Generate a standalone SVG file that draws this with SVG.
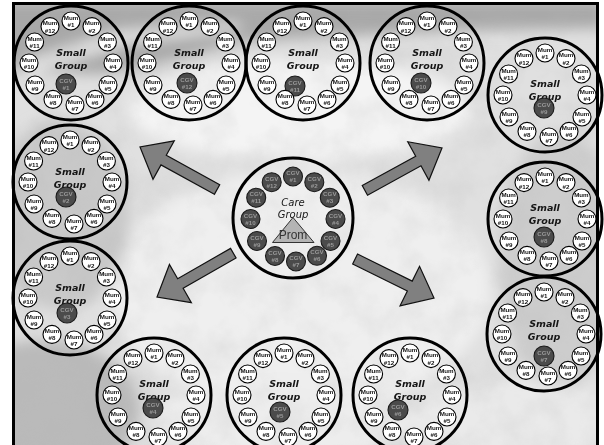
<svg xmlns="http://www.w3.org/2000/svg" width="604" height="445" viewBox="0 0 604 445">
  <style>
    .big { fill: none; stroke: #000; stroke-width: 3; }
    .sg { font-family: "DejaVu Sans", sans-serif; font-style: italic; font-weight: bold; font-size: 9.5px; text-anchor: middle; fill: #151515; }
    .cg { font-family: "DejaVu Sans", sans-serif; font-style: italic; font-size: 10px; text-anchor: middle; fill: #151515; }
    .mum circle { fill: #fff; stroke: #000; stroke-width: 1.1; }
    .mum text { font-family: "Liberation Sans", Arial, sans-serif; font-weight: bold; font-size: 6.2px; text-anchor: middle; fill: #111; }
    .cgv circle { fill: #4b4b4b; stroke: #1a1a1a; stroke-width: 1.1; }
    .cgv text { font-family: "Liberation Sans", Arial, sans-serif; font-weight: bold; font-size: 6.2px; text-anchor: middle; fill: #9a9a9a; }
    .arrow { fill: #808080; stroke: #111; stroke-width: 1.2; stroke-linejoin: miter; }
    .prom { font-family: "Liberation Sans", Arial, sans-serif; font-size: 12px; text-anchor: middle; fill: #333; }
  </style>
  <defs>
    <clipPath id="frameClip"><rect x="13" y="3" width="585" height="445"/></clipPath>
    <filter id="soft" x="-20%" y="-20%" width="140%" height="140%"><feGaussianBlur stdDeviation="7"/></filter>
    <filter id="grain" x="0" y="0" width="100%" height="100%">
      <feTurbulence type="fractalNoise" baseFrequency="0.03" numOctaves="4" seed="7"/>
      <feColorMatrix type="matrix" values="0 0 0 0 0.45  0 0 0 0 0.45  0 0 0 0 0.45  0 0 0 -1.6 1.0"/>
    </filter>
    <polygon id="arrowShape" points="-88,-5.5 -27,-5.5 -27,-22 0,0 -27,22 -27,5.5 -88,5.5"/>
  </defs>

  <g opacity="0.999">
  <!-- paper and cloudy sky backdrop -->
  <rect width="604" height="445" fill="#fff"/>
  <g clip-path="url(#frameClip)">
    <rect x="13" y="3" width="585" height="445" fill="#e0e0e0"/>
    <g filter="url(#soft)">
      <ellipse cx="300" cy="290" rx="190" ry="120" fill="#efefef"/>
      <ellipse cx="300" cy="110" rx="170" ry="50" fill="#f4f4f4"/>
      <ellipse cx="60" cy="215" rx="70" ry="95" fill="#c9c9c9"/>
      <ellipse cx="45" cy="410" rx="95" ry="70" fill="#bababa"/>
      <ellipse cx="560" cy="260" rx="60" ry="130" fill="#cdcdcd"/>
      <ellipse cx="520" cy="420" rx="110" ry="40" fill="#eaeaea"/>
      <ellipse cx="280" cy="420" rx="130" ry="40" fill="#ededed"/>
      <polygon points="0,0 604,0 604,28 470,30 330,36 240,42 170,62 100,74 0,70" fill="#a8a8a8"/>
      <polygon points="20,62 120,30 240,22 240,30 130,44 30,74" fill="#e2e2e2"/>
      <polygon points="120,72 240,44 330,36 330,40 240,52 130,78" fill="#d8d8d8"/>
    </g>
    <rect x="13" y="3" width="585" height="445" filter="url(#grain)" opacity="0.22"/>
  </g>
  <rect x="13.5" y="3.5" width="584" height="460" fill="none" stroke="#000" stroke-width="3"/>

  <!-- connectors: arrows from the care group out to the small groups -->
  <g id="connectors">
    <use href="#arrowShape" class="arrow" transform="translate(140,147) rotate(-151.1)"/>
    <use href="#arrowShape" class="arrow" transform="translate(442,148) rotate(-28.8)"/>
    <use href="#arrowShape" class="arrow" transform="translate(157,297) rotate(150.1)"/>
    <use href="#arrowShape" class="arrow" transform="translate(434,298) rotate(26.3)"/>
  </g>

  <!-- central care group -->
  <g id="care-group" transform="translate(293,219)">
    <circle class="big" cy="-1" r="60"/>
    <text class="cg" y="-13.5">Care</text>
    <text class="cg" y="-1.5">Group</text>
    <polygon points="0,-1.5 -20.5,23.5 21,23.5" fill="#b4b4b4" stroke="#333" stroke-width="1"/>
    <text class="prom" y="20">Prom</text>
    <g class="cgv" transform="translate(0,-42.5)"><circle r="9.5"/><text y="-1.5">CGV</text><text y="5.5">#1</text></g>
    <g class="cgv" transform="translate(21.3,-36.8)"><circle r="9.5"/><text y="-1.5">CGV</text><text y="5.5">#2</text></g>
    <g class="cgv" transform="translate(36.8,-21.3)"><circle r="9.5"/><text y="-1.5">CGV</text><text y="5.5">#3</text></g>
    <g class="cgv" transform="translate(42.5,0)"><circle r="9.5"/><text y="-1.5">CGV</text><text y="5.5">#4</text></g>
    <g class="cgv" transform="translate(37.5,22)"><circle r="9.5"/><text y="-1.5">CGV</text><text y="5.5">#5</text></g>
    <g class="cgv" transform="translate(24,36.8)"><circle r="9.5"/><text y="-1.5">CGV</text><text y="5.5">#6</text></g>
    <g class="cgv" transform="translate(3,42.5)"><circle r="9.5"/><text y="-1.5">CGV</text><text y="5.5">#7</text></g>
    <g class="cgv" transform="translate(-18,37)"><circle r="9.5"/><text y="-1.5">CGV</text><text y="5.5">#8</text></g>
    <g class="cgv" transform="translate(-36,22)"><circle r="9.5"/><text y="-1.5">CGV</text><text y="5.5">#9</text></g>
    <g class="cgv" transform="translate(-42.5,0)"><circle r="9.5"/><text y="-1.5">CGV</text><text y="5.5">#10</text></g>
    <g class="cgv" transform="translate(-36.8,-21.3)"><circle r="9.5"/><text y="-1.5">CGV</text><text y="5.5">#11</text></g>
    <g class="cgv" transform="translate(-21.3,-36.8)"><circle r="9.5"/><text y="-1.5">CGV</text><text y="5.5">#12</text></g>
  </g>

  <!-- small group led by CGV #1 -->
  <g id="small-group-1" transform="translate(71,63)">
    <circle class="big" r="57"/>
    <text class="sg" y="-7">Small</text>
    <text class="sg" y="6">Group</text>
    <g class="cgv" transform="translate(-5,21)"><circle r="10"/><text y="-1.5">CGV</text><text y="5.5">#1</text></g>
    <g class="mum" transform="translate(0,-42)"><circle r="9"/><text y="-1.5">Mum</text><text y="6">#1</text></g>
    <g class="mum" transform="translate(21,-36.4)"><circle r="9"/><text y="-1.5">Mum</text><text y="6">#2</text></g>
    <g class="mum" transform="translate(36.4,-21)"><circle r="9"/><text y="-1.5">Mum</text><text y="6">#3</text></g>
    <g class="mum" transform="translate(42,0)"><circle r="9"/><text y="-1.5">Mum</text><text y="6">#4</text></g>
    <g class="mum" transform="translate(37,22)"><circle r="9"/><text y="-1.5">Mum</text><text y="6">#5</text></g>
    <g class="mum" transform="translate(24,36.4)"><circle r="9"/><text y="-1.5">Mum</text><text y="6">#6</text></g>
    <g class="mum" transform="translate(4,42)"><circle r="9"/><text y="-1.5">Mum</text><text y="6">#7</text></g>
    <g class="mum" transform="translate(-18,36.4)"><circle r="9"/><text y="-1.5">Mum</text><text y="6">#8</text></g>
    <g class="mum" transform="translate(-36,22)"><circle r="9"/><text y="-1.5">Mum</text><text y="6">#9</text></g>
    <g class="mum" transform="translate(-42,0)"><circle r="9"/><text y="-1.5">Mum</text><text y="6">#10</text></g>
    <g class="mum" transform="translate(-36.4,-21)"><circle r="9"/><text y="-1.5">Mum</text><text y="6">#11</text></g>
    <g class="mum" transform="translate(-21,-36.4)"><circle r="9"/><text y="-1.5">Mum</text><text y="6">#12</text></g>
  </g>

  <!-- small group led by CGV #12 -->
  <g id="small-group-12" transform="translate(189,63)">
    <circle class="big" r="57"/>
    <text class="sg" y="-7">Small</text>
    <text class="sg" y="6">Group</text>
    <g class="cgv" transform="translate(-2,20)"><circle r="10"/><text y="-1.5">CGV</text><text y="5.5">#12</text></g>
    <g class="mum" transform="translate(0,-42)"><circle r="9"/><text y="-1.5">Mum</text><text y="6">#1</text></g>
    <g class="mum" transform="translate(21,-36.4)"><circle r="9"/><text y="-1.5">Mum</text><text y="6">#2</text></g>
    <g class="mum" transform="translate(36.4,-21)"><circle r="9"/><text y="-1.5">Mum</text><text y="6">#3</text></g>
    <g class="mum" transform="translate(42,0)"><circle r="9"/><text y="-1.5">Mum</text><text y="6">#4</text></g>
    <g class="mum" transform="translate(37,22)"><circle r="9"/><text y="-1.5">Mum</text><text y="6">#5</text></g>
    <g class="mum" transform="translate(24,36.4)"><circle r="9"/><text y="-1.5">Mum</text><text y="6">#6</text></g>
    <g class="mum" transform="translate(4,42)"><circle r="9"/><text y="-1.5">Mum</text><text y="6">#7</text></g>
    <g class="mum" transform="translate(-18,36.4)"><circle r="9"/><text y="-1.5">Mum</text><text y="6">#8</text></g>
    <g class="mum" transform="translate(-36,22)"><circle r="9"/><text y="-1.5">Mum</text><text y="6">#9</text></g>
    <g class="mum" transform="translate(-42,0)"><circle r="9"/><text y="-1.5">Mum</text><text y="6">#10</text></g>
    <g class="mum" transform="translate(-36.4,-21)"><circle r="9"/><text y="-1.5">Mum</text><text y="6">#11</text></g>
    <g class="mum" transform="translate(-21,-36.4)"><circle r="9"/><text y="-1.5">Mum</text><text y="6">#12</text></g>
  </g>

  <!-- small group led by CGV #11 -->
  <g id="small-group-11" transform="translate(303,63)">
    <circle class="big" r="57"/>
    <text class="sg" y="-7">Small</text>
    <text class="sg" y="6">Group</text>
    <g class="cgv" transform="translate(-8,23)"><circle r="10"/><text y="-1.5">CGV</text><text y="5.5">#11</text></g>
    <g class="mum" transform="translate(0,-42)"><circle r="9"/><text y="-1.5">Mum</text><text y="6">#1</text></g>
    <g class="mum" transform="translate(21,-36.4)"><circle r="9"/><text y="-1.5">Mum</text><text y="6">#2</text></g>
    <g class="mum" transform="translate(36.4,-21)"><circle r="9"/><text y="-1.5">Mum</text><text y="6">#3</text></g>
    <g class="mum" transform="translate(42,0)"><circle r="9"/><text y="-1.5">Mum</text><text y="6">#4</text></g>
    <g class="mum" transform="translate(37,22)"><circle r="9"/><text y="-1.5">Mum</text><text y="6">#5</text></g>
    <g class="mum" transform="translate(24,36.4)"><circle r="9"/><text y="-1.5">Mum</text><text y="6">#6</text></g>
    <g class="mum" transform="translate(4,42)"><circle r="9"/><text y="-1.5">Mum</text><text y="6">#7</text></g>
    <g class="mum" transform="translate(-18,36.4)"><circle r="9"/><text y="-1.5">Mum</text><text y="6">#8</text></g>
    <g class="mum" transform="translate(-36,22)"><circle r="9"/><text y="-1.5">Mum</text><text y="6">#9</text></g>
    <g class="mum" transform="translate(-42,0)"><circle r="9"/><text y="-1.5">Mum</text><text y="6">#10</text></g>
    <g class="mum" transform="translate(-36.4,-21)"><circle r="9"/><text y="-1.5">Mum</text><text y="6">#11</text></g>
    <g class="mum" transform="translate(-21,-36.4)"><circle r="9"/><text y="-1.5">Mum</text><text y="6">#12</text></g>
  </g>

  <!-- small group led by CGV #10 -->
  <g id="small-group-10" transform="translate(427,63)">
    <circle class="big" r="57"/>
    <text class="sg" y="-7">Small</text>
    <text class="sg" y="6">Group</text>
    <g class="cgv" transform="translate(-6,20)"><circle r="10"/><text y="-1.5">CGV</text><text y="5.5">#10</text></g>
    <g class="mum" transform="translate(0,-42)"><circle r="9"/><text y="-1.5">Mum</text><text y="6">#1</text></g>
    <g class="mum" transform="translate(21,-36.4)"><circle r="9"/><text y="-1.5">Mum</text><text y="6">#2</text></g>
    <g class="mum" transform="translate(36.4,-21)"><circle r="9"/><text y="-1.5">Mum</text><text y="6">#3</text></g>
    <g class="mum" transform="translate(42,0)"><circle r="9"/><text y="-1.5">Mum</text><text y="6">#4</text></g>
    <g class="mum" transform="translate(37,22)"><circle r="9"/><text y="-1.5">Mum</text><text y="6">#5</text></g>
    <g class="mum" transform="translate(24,36.4)"><circle r="9"/><text y="-1.5">Mum</text><text y="6">#6</text></g>
    <g class="mum" transform="translate(4,42)"><circle r="9"/><text y="-1.5">Mum</text><text y="6">#7</text></g>
    <g class="mum" transform="translate(-18,36.4)"><circle r="9"/><text y="-1.5">Mum</text><text y="6">#8</text></g>
    <g class="mum" transform="translate(-36,22)"><circle r="9"/><text y="-1.5">Mum</text><text y="6">#9</text></g>
    <g class="mum" transform="translate(-42,0)"><circle r="9"/><text y="-1.5">Mum</text><text y="6">#10</text></g>
    <g class="mum" transform="translate(-36.4,-21)"><circle r="9"/><text y="-1.5">Mum</text><text y="6">#11</text></g>
    <g class="mum" transform="translate(-21,-36.4)"><circle r="9"/><text y="-1.5">Mum</text><text y="6">#12</text></g>
  </g>

  <!-- small group led by CGV #9 -->
  <g id="small-group-9" transform="translate(545,95)">
    <circle class="big" r="57"/>
    <text class="sg" y="-8">Small</text>
    <text class="sg" y="5">Group</text>
    <g class="cgv" transform="translate(-1,13)"><circle r="10"/><text y="-1.5">CGV</text><text y="5.5">#9</text></g>
    <g class="mum" transform="translate(0,-42)"><circle r="9"/><text y="-1.5">Mum</text><text y="6">#1</text></g>
    <g class="mum" transform="translate(21,-36.4)"><circle r="9"/><text y="-1.5">Mum</text><text y="6">#2</text></g>
    <g class="mum" transform="translate(36.4,-21)"><circle r="9"/><text y="-1.5">Mum</text><text y="6">#3</text></g>
    <g class="mum" transform="translate(42,0)"><circle r="9"/><text y="-1.5">Mum</text><text y="6">#4</text></g>
    <g class="mum" transform="translate(37,22)"><circle r="9"/><text y="-1.5">Mum</text><text y="6">#5</text></g>
    <g class="mum" transform="translate(24,36.4)"><circle r="9"/><text y="-1.5">Mum</text><text y="6">#6</text></g>
    <g class="mum" transform="translate(4,42)"><circle r="9"/><text y="-1.5">Mum</text><text y="6">#7</text></g>
    <g class="mum" transform="translate(-18,36.4)"><circle r="9"/><text y="-1.5">Mum</text><text y="6">#8</text></g>
    <g class="mum" transform="translate(-36,22)"><circle r="9"/><text y="-1.5">Mum</text><text y="6">#9</text></g>
    <g class="mum" transform="translate(-42,0)"><circle r="9"/><text y="-1.5">Mum</text><text y="6">#10</text></g>
    <g class="mum" transform="translate(-36.4,-21)"><circle r="9"/><text y="-1.5">Mum</text><text y="6">#11</text></g>
    <g class="mum" transform="translate(-21,-36.4)"><circle r="9"/><text y="-1.5">Mum</text><text y="6">#12</text></g>
  </g>

  <!-- small group led by CGV #8 -->
  <g id="small-group-8" transform="translate(545,219)">
    <circle class="big" r="57"/>
    <text class="sg" y="-8">Small</text>
    <text class="sg" y="5">Group</text>
    <g class="cgv" transform="translate(-1,18)"><circle r="10"/><text y="-1.5">CGV</text><text y="5.5">#8</text></g>
    <g class="mum" transform="translate(0,-42)"><circle r="9"/><text y="-1.5">Mum</text><text y="6">#1</text></g>
    <g class="mum" transform="translate(21,-36.4)"><circle r="9"/><text y="-1.5">Mum</text><text y="6">#2</text></g>
    <g class="mum" transform="translate(36.4,-21)"><circle r="9"/><text y="-1.5">Mum</text><text y="6">#3</text></g>
    <g class="mum" transform="translate(42,0)"><circle r="9"/><text y="-1.5">Mum</text><text y="6">#4</text></g>
    <g class="mum" transform="translate(37,22)"><circle r="9"/><text y="-1.5">Mum</text><text y="6">#5</text></g>
    <g class="mum" transform="translate(24,36.4)"><circle r="9"/><text y="-1.5">Mum</text><text y="6">#6</text></g>
    <g class="mum" transform="translate(4,42)"><circle r="9"/><text y="-1.5">Mum</text><text y="6">#7</text></g>
    <g class="mum" transform="translate(-18,36.4)"><circle r="9"/><text y="-1.5">Mum</text><text y="6">#8</text></g>
    <g class="mum" transform="translate(-36,22)"><circle r="9"/><text y="-1.5">Mum</text><text y="6">#9</text></g>
    <g class="mum" transform="translate(-42,0)"><circle r="9"/><text y="-1.5">Mum</text><text y="6">#10</text></g>
    <g class="mum" transform="translate(-36.4,-21)"><circle r="9"/><text y="-1.5">Mum</text><text y="6">#11</text></g>
    <g class="mum" transform="translate(-21,-36.4)"><circle r="9"/><text y="-1.5">Mum</text><text y="6">#12</text></g>
  </g>

  <!-- small group led by CGV #7 -->
  <g id="small-group-7" transform="translate(544,334)">
    <circle class="big" r="57"/>
    <text class="sg" y="-7">Small</text>
    <text class="sg" y="6">Group</text>
    <g class="cgv" transform="translate(0,22)"><circle r="10"/><text y="-1.5">CGV</text><text y="5.5">#7</text></g>
    <g class="mum" transform="translate(0,-42)"><circle r="9"/><text y="-1.5">Mum</text><text y="6">#1</text></g>
    <g class="mum" transform="translate(21,-36.4)"><circle r="9"/><text y="-1.5">Mum</text><text y="6">#2</text></g>
    <g class="mum" transform="translate(36.4,-21)"><circle r="9"/><text y="-1.5">Mum</text><text y="6">#3</text></g>
    <g class="mum" transform="translate(42,0)"><circle r="9"/><text y="-1.5">Mum</text><text y="6">#4</text></g>
    <g class="mum" transform="translate(37,22)"><circle r="9"/><text y="-1.5">Mum</text><text y="6">#5</text></g>
    <g class="mum" transform="translate(24,36.4)"><circle r="9"/><text y="-1.5">Mum</text><text y="6">#6</text></g>
    <g class="mum" transform="translate(4,42)"><circle r="9"/><text y="-1.5">Mum</text><text y="6">#7</text></g>
    <g class="mum" transform="translate(-18,36.4)"><circle r="9"/><text y="-1.5">Mum</text><text y="6">#8</text></g>
    <g class="mum" transform="translate(-36,22)"><circle r="9"/><text y="-1.5">Mum</text><text y="6">#9</text></g>
    <g class="mum" transform="translate(-42,0)"><circle r="9"/><text y="-1.5">Mum</text><text y="6">#10</text></g>
    <g class="mum" transform="translate(-36.4,-21)"><circle r="9"/><text y="-1.5">Mum</text><text y="6">#11</text></g>
    <g class="mum" transform="translate(-21,-36.4)"><circle r="9"/><text y="-1.5">Mum</text><text y="6">#12</text></g>
  </g>

  <!-- small group led by CGV #2 -->
  <g id="small-group-2" transform="translate(70,182)">
    <circle class="big" r="57"/>
    <text class="sg" y="-7">Small</text>
    <text class="sg" y="6">Group</text>
    <g class="cgv" transform="translate(-4,15)"><circle r="10"/><text y="-1.5">CGV</text><text y="5.5">#2</text></g>
    <g class="mum" transform="translate(0,-42)"><circle r="9"/><text y="-1.5">Mum</text><text y="6">#1</text></g>
    <g class="mum" transform="translate(21,-36.4)"><circle r="9"/><text y="-1.5">Mum</text><text y="6">#2</text></g>
    <g class="mum" transform="translate(36.4,-21)"><circle r="9"/><text y="-1.5">Mum</text><text y="6">#3</text></g>
    <g class="mum" transform="translate(42,0)"><circle r="9"/><text y="-1.5">Mum</text><text y="6">#4</text></g>
    <g class="mum" transform="translate(37,22)"><circle r="9"/><text y="-1.5">Mum</text><text y="6">#5</text></g>
    <g class="mum" transform="translate(24,36.4)"><circle r="9"/><text y="-1.5">Mum</text><text y="6">#6</text></g>
    <g class="mum" transform="translate(4,42)"><circle r="9"/><text y="-1.5">Mum</text><text y="6">#7</text></g>
    <g class="mum" transform="translate(-18,36.4)"><circle r="9"/><text y="-1.5">Mum</text><text y="6">#8</text></g>
    <g class="mum" transform="translate(-36,22)"><circle r="9"/><text y="-1.5">Mum</text><text y="6">#9</text></g>
    <g class="mum" transform="translate(-42,0)"><circle r="9"/><text y="-1.5">Mum</text><text y="6">#10</text></g>
    <g class="mum" transform="translate(-36.4,-21)"><circle r="9"/><text y="-1.5">Mum</text><text y="6">#11</text></g>
    <g class="mum" transform="translate(-21,-36.4)"><circle r="9"/><text y="-1.5">Mum</text><text y="6">#12</text></g>
  </g>

  <!-- small group led by CGV #3 -->
  <g id="small-group-3" transform="translate(70,298)">
    <circle class="big" r="57"/>
    <text class="sg" y="-7">Small</text>
    <text class="sg" y="6">Group</text>
    <g class="cgv" transform="translate(-3,15)"><circle r="10"/><text y="-1.5">CGV</text><text y="5.5">#3</text></g>
    <g class="mum" transform="translate(0,-42)"><circle r="9"/><text y="-1.5">Mum</text><text y="6">#1</text></g>
    <g class="mum" transform="translate(21,-36.4)"><circle r="9"/><text y="-1.5">Mum</text><text y="6">#2</text></g>
    <g class="mum" transform="translate(36.4,-21)"><circle r="9"/><text y="-1.5">Mum</text><text y="6">#3</text></g>
    <g class="mum" transform="translate(42,0)"><circle r="9"/><text y="-1.5">Mum</text><text y="6">#4</text></g>
    <g class="mum" transform="translate(37,22)"><circle r="9"/><text y="-1.5">Mum</text><text y="6">#5</text></g>
    <g class="mum" transform="translate(24,36.4)"><circle r="9"/><text y="-1.5">Mum</text><text y="6">#6</text></g>
    <g class="mum" transform="translate(4,42)"><circle r="9"/><text y="-1.5">Mum</text><text y="6">#7</text></g>
    <g class="mum" transform="translate(-18,36.4)"><circle r="9"/><text y="-1.5">Mum</text><text y="6">#8</text></g>
    <g class="mum" transform="translate(-36,22)"><circle r="9"/><text y="-1.5">Mum</text><text y="6">#9</text></g>
    <g class="mum" transform="translate(-42,0)"><circle r="9"/><text y="-1.5">Mum</text><text y="6">#10</text></g>
    <g class="mum" transform="translate(-36.4,-21)"><circle r="9"/><text y="-1.5">Mum</text><text y="6">#11</text></g>
    <g class="mum" transform="translate(-21,-36.4)"><circle r="9"/><text y="-1.5">Mum</text><text y="6">#12</text></g>
  </g>

  <!-- small group led by CGV #4 -->
  <g id="small-group-4" transform="translate(154,395)">
    <circle class="big" r="57"/>
    <text class="sg" y="-8">Small</text>
    <text class="sg" y="5">Group</text>
    <g class="cgv" transform="translate(-1,13)"><circle r="10"/><text y="-1.5">CGV</text><text y="5.5">#4</text></g>
    <g class="mum" transform="translate(0,-42)"><circle r="9"/><text y="-1.5">Mum</text><text y="6">#1</text></g>
    <g class="mum" transform="translate(21,-36.4)"><circle r="9"/><text y="-1.5">Mum</text><text y="6">#2</text></g>
    <g class="mum" transform="translate(36.4,-21)"><circle r="9"/><text y="-1.5">Mum</text><text y="6">#3</text></g>
    <g class="mum" transform="translate(42,0)"><circle r="9"/><text y="-1.5">Mum</text><text y="6">#4</text></g>
    <g class="mum" transform="translate(37,22)"><circle r="9"/><text y="-1.5">Mum</text><text y="6">#5</text></g>
    <g class="mum" transform="translate(24,36.4)"><circle r="9"/><text y="-1.5">Mum</text><text y="6">#6</text></g>
    <g class="mum" transform="translate(4,42)"><circle r="9"/><text y="-1.5">Mum</text><text y="6">#7</text></g>
    <g class="mum" transform="translate(-18,36.4)"><circle r="9"/><text y="-1.5">Mum</text><text y="6">#8</text></g>
    <g class="mum" transform="translate(-36,22)"><circle r="9"/><text y="-1.5">Mum</text><text y="6">#9</text></g>
    <g class="mum" transform="translate(-42,0)"><circle r="9"/><text y="-1.5">Mum</text><text y="6">#10</text></g>
    <g class="mum" transform="translate(-36.4,-21)"><circle r="9"/><text y="-1.5">Mum</text><text y="6">#11</text></g>
    <g class="mum" transform="translate(-21,-36.4)"><circle r="9"/><text y="-1.5">Mum</text><text y="6">#12</text></g>
  </g>

  <!-- small group led by CGV #5 -->
  <g id="small-group-5" transform="translate(284,395)">
    <circle class="big" r="57"/>
    <text class="sg" y="-8">Small</text>
    <text class="sg" y="5">Group</text>
    <g class="cgv" transform="translate(-4,17)"><circle r="10"/><text y="-1.5">CGV</text><text y="5.5">#5</text></g>
    <g class="mum" transform="translate(0,-42)"><circle r="9"/><text y="-1.5">Mum</text><text y="6">#1</text></g>
    <g class="mum" transform="translate(21,-36.4)"><circle r="9"/><text y="-1.5">Mum</text><text y="6">#2</text></g>
    <g class="mum" transform="translate(36.4,-21)"><circle r="9"/><text y="-1.5">Mum</text><text y="6">#3</text></g>
    <g class="mum" transform="translate(42,0)"><circle r="9"/><text y="-1.5">Mum</text><text y="6">#4</text></g>
    <g class="mum" transform="translate(37,22)"><circle r="9"/><text y="-1.5">Mum</text><text y="6">#5</text></g>
    <g class="mum" transform="translate(24,36.4)"><circle r="9"/><text y="-1.5">Mum</text><text y="6">#6</text></g>
    <g class="mum" transform="translate(4,42)"><circle r="9"/><text y="-1.5">Mum</text><text y="6">#7</text></g>
    <g class="mum" transform="translate(-18,36.4)"><circle r="9"/><text y="-1.5">Mum</text><text y="6">#8</text></g>
    <g class="mum" transform="translate(-36,22)"><circle r="9"/><text y="-1.5">Mum</text><text y="6">#9</text></g>
    <g class="mum" transform="translate(-42,0)"><circle r="9"/><text y="-1.5">Mum</text><text y="6">#10</text></g>
    <g class="mum" transform="translate(-36.4,-21)"><circle r="9"/><text y="-1.5">Mum</text><text y="6">#11</text></g>
    <g class="mum" transform="translate(-21,-36.4)"><circle r="9"/><text y="-1.5">Mum</text><text y="6">#12</text></g>
  </g>

  <!-- small group led by CGV #6 -->
  <g id="small-group-6" transform="translate(410,395)">
    <circle class="big" r="57"/>
    <text class="sg" y="-8">Small</text>
    <text class="sg" y="5">Group</text>
    <g class="cgv" transform="translate(-12,15)"><circle r="10"/><text y="-1.5">CGV</text><text y="5.5">#6</text></g>
    <g class="mum" transform="translate(0,-42)"><circle r="9"/><text y="-1.5">Mum</text><text y="6">#1</text></g>
    <g class="mum" transform="translate(21,-36.4)"><circle r="9"/><text y="-1.5">Mum</text><text y="6">#2</text></g>
    <g class="mum" transform="translate(36.4,-21)"><circle r="9"/><text y="-1.5">Mum</text><text y="6">#3</text></g>
    <g class="mum" transform="translate(42,0)"><circle r="9"/><text y="-1.5">Mum</text><text y="6">#4</text></g>
    <g class="mum" transform="translate(37,22)"><circle r="9"/><text y="-1.5">Mum</text><text y="6">#5</text></g>
    <g class="mum" transform="translate(24,36.4)"><circle r="9"/><text y="-1.5">Mum</text><text y="6">#6</text></g>
    <g class="mum" transform="translate(4,42)"><circle r="9"/><text y="-1.5">Mum</text><text y="6">#7</text></g>
    <g class="mum" transform="translate(-18,36.4)"><circle r="9"/><text y="-1.5">Mum</text><text y="6">#8</text></g>
    <g class="mum" transform="translate(-36,22)"><circle r="9"/><text y="-1.5">Mum</text><text y="6">#9</text></g>
    <g class="mum" transform="translate(-42,0)"><circle r="9"/><text y="-1.5">Mum</text><text y="6">#10</text></g>
    <g class="mum" transform="translate(-36.4,-21)"><circle r="9"/><text y="-1.5">Mum</text><text y="6">#11</text></g>
    <g class="mum" transform="translate(-21,-36.4)"><circle r="9"/><text y="-1.5">Mum</text><text y="6">#12</text></g>
  </g>
  </g>
</svg>
